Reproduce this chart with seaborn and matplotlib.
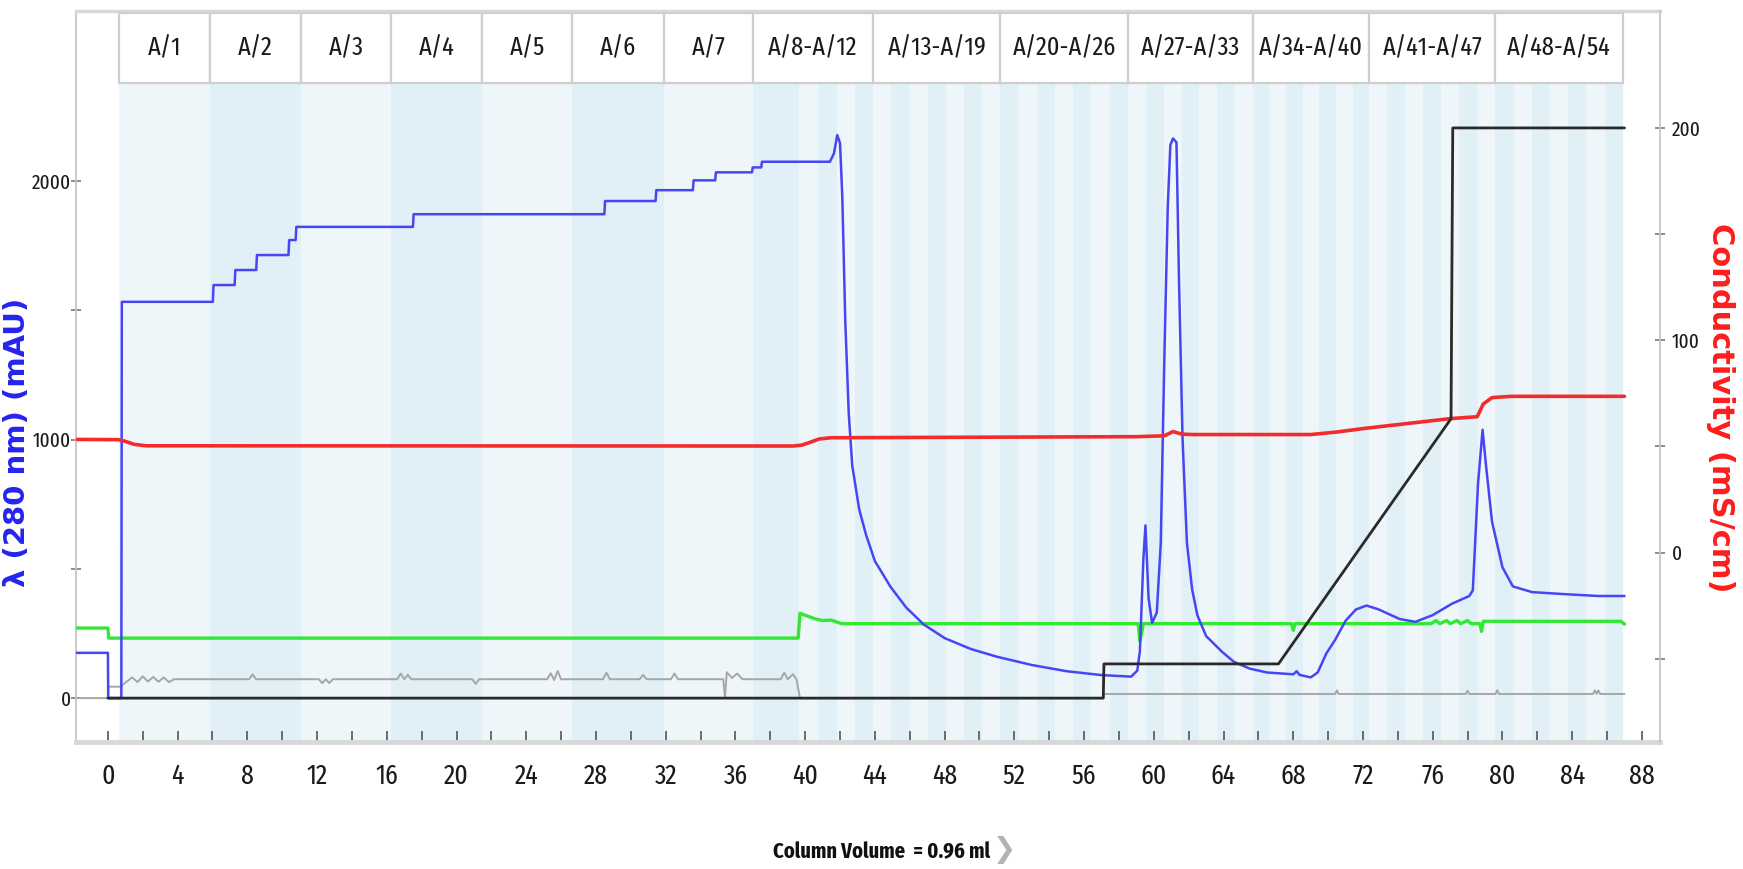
import matplotlib
matplotlib.use('Agg')
import matplotlib.pyplot as plt
import matplotlib.transforms as mtransforms
from matplotlib.patches import Rectangle
from matplotlib.ticker import FixedLocator
from matplotlib import font_manager
import seaborn as sns

# ---------------- data (column volumes, CV) ----------------
# UV 280 nm (mAU)
blue_cv = [-1.85, 0.00, 0.02, 0.77, 0.80,
           6.02, 6.06, 7.27, 7.31, 8.51, 8.55, 10.36, 10.40, 10.77, 10.81,
           17.50, 17.54, 28.48, 28.52, 31.42, 31.46, 33.56, 33.60, 34.84, 34.88,
           36.95, 36.99, 37.48, 37.52, 41.42, 41.65, 41.84, 42.00, 42.13, 42.30,
           42.50, 42.70, 43.10, 43.50, 44.00, 44.90, 45.80, 46.80, 48.00, 49.50,
           51.00, 53.00, 55.00, 57.00, 58.70, 59.05, 59.20, 59.40, 59.52, 59.70,
           59.90, 60.17, 60.40, 60.60, 60.80, 60.95, 61.10, 61.30, 61.45, 61.65,
           61.90, 62.20, 62.50, 63.00, 63.90, 64.60, 65.50, 66.50, 68.00, 68.20,
           68.35, 69.00, 69.40, 69.90, 70.40, 71.00, 71.60, 72.20, 72.90, 74.10,
           75.00, 76.00, 77.10, 78.10, 78.30, 78.60, 78.86, 79.05, 79.40, 80.00,
           80.60, 81.70, 83.60, 85.50, 87.00]
blue_mau = [175, 175, 0, 0, 1533,
            1533, 1598, 1598, 1656, 1656, 1714, 1714, 1772, 1772, 1823,
            1823, 1872, 1872, 1923, 1923, 1965, 1965, 2003, 2003, 2034,
            2034, 2053, 2053, 2075, 2075, 2107, 2178, 2147, 1940, 1460,
            1100, 900, 730, 630, 530, 430, 350, 285, 232, 190,
            160, 128, 104, 89, 83, 106, 180, 535, 668, 387,
            291, 330, 600, 1300, 1900, 2140, 2165, 2150, 1600, 1000,
            600, 420, 320, 240, 180, 140, 114, 99, 92, 104,
            90, 80, 99, 173, 225, 299, 343, 358, 343, 306,
            295, 321, 365, 395, 417, 831, 1038, 905, 683, 506,
            432, 410, 402, 395, 395]

# conductivity (mS/cm)
red_cv = [-1.85, 0.60, 1.00, 1.50, 2.20, 39.30, 39.80, 40.30, 40.80, 41.50, 59.00, 60.60, 61.10,
          61.60, 62.20, 69.00, 70.50, 72.20, 77.00, 78.55, 78.70, 78.90, 79.40, 80.50, 87.00]
red_ms = [53.3, 53.2, 52.4, 51.0, 50.3, 50.2, 50.6, 52.0, 53.5, 54.1, 54.6, 55.0, 57.0,
          55.8, 55.6, 55.6, 56.8, 58.6, 63.1, 64.0, 66.5, 70.0, 73.0, 73.6, 73.6]

# second trace (green, mAU scale)
green_cv = [-1.85, 0.00, 0.05, 39.60, 39.70, 40.10, 40.60, 41.00, 41.50, 41.90, 42.10,
            59.10, 59.20, 59.30, 59.40, 67.90, 68.00, 68.10, 75.90, 76.20, 76.40, 76.80,
            77.00, 77.40, 77.60, 78.00, 78.20, 78.70, 78.80, 78.90, 79.00, 86.80, 87.00]
green_mau = [271, 271, 232, 232, 328, 318, 306, 300, 302, 292, 288,
             288, 221, 250, 288, 288, 262, 288, 288, 300, 288, 300,
             288, 300, 288, 300, 288, 288, 258, 297, 297, 297, 286]

# grey trace (mAU scale)
grey_cv = [-1.85, 0.00, 0.02, 0.70, 1.00, 1.40, 1.70, 2.00, 2.30, 2.60, 2.90, 3.20, 3.50, 3.80,
           8.10, 8.30, 8.50, 12.10, 12.30, 12.50, 12.70, 12.90, 16.60, 16.80, 17.00, 17.20, 17.40,
           20.90, 21.10, 21.30, 25.20, 25.40, 25.60, 25.80, 26.00, 26.20, 28.40, 28.60, 28.80,
           30.50, 30.70, 30.90, 32.30, 32.50, 32.70, 35.30, 35.40, 35.50, 35.80, 36.10, 36.40,
           38.60, 38.80, 39.00, 39.30, 39.50, 39.70, 57.10, 57.15, 70.40, 70.50, 70.60,
           77.90, 78.00, 78.10, 79.60, 79.70, 79.80, 85.20, 85.30, 85.40, 85.50, 85.60, 87.00]
grey_mau = [0, 0, 44, 44, 60, 80, 62, 84, 64, 82, 63, 80, 62, 73,
            73, 92, 73, 73, 58, 73, 58, 73, 73, 95, 73, 90, 73,
            73, 55, 73, 73, 96, 70, 105, 72, 73, 73, 98, 73,
            73, 90, 73, 73, 95, 73, 73, 0, 100, 78, 95, 73,
            73, 98, 73, 92, 73, 0, 0, 16, 16, 30, 16,
            16, 28, 16, 16, 30, 16, 16, 30, 16, 30, 16, 16]

# gradient (%B)
black_cv = [0.00, 57.10, 57.14, 67.15, 77.05, 77.15, 87.00]
black_pct = [0, 0, 6, 6, 49, 100, 100]

# fractions
band_labels = ['A/1', 'A/2', 'A/3', 'A/4', 'A/5', 'A/6', 'A/7', 'A/8-A/12', 'A/13-A/19',
               'A/20-A/26', 'A/27-A/33', 'A/34-A/40', 'A/41-A/47', 'A/48-A/54']
band_edges = [0.63, 5.85, 11.07, 16.24, 21.46, 26.62, 31.90, 37.00, 43.90, 51.20,
              58.50, 65.70, 72.35, 79.60, 86.90]
frac_edges = [0.63, 5.85, 11.07, 16.24, 21.46, 26.62, 31.90, 37.00, 39.66, 40.75, 41.80,
              42.86, 43.90, 44.94, 45.99, 47.03, 48.07, 49.11, 50.16, 51.20, 52.24, 53.29,
              54.33, 55.37, 56.41, 57.46, 58.50, 59.53, 60.56, 61.59, 62.61, 63.64, 64.67,
              65.70, 66.65, 67.60, 68.55, 69.50, 70.45, 71.40, 72.35, 73.39, 74.42, 75.46,
              76.50, 77.53, 78.57, 79.60, 80.64, 81.69, 82.73, 83.77, 84.81, 85.86, 86.90]

# ---------------- fonts ----------------
sns.set_theme(style='white')
plt.rcParams['font.family'] = ['DejaVu Sans']

names = {f.name for f in font_manager.fontManager.ttflist}
narrow_family = next((c for c in ['Fira Sans Extra Condensed', 'Barlow Condensed',
                                  'Roboto Condensed'] if c in names), 'DejaVu Sans')

def narrow(size, weight='normal'):
    return dict(family=[narrow_family, 'DejaVu Sans'], size=size, weight=weight)

# ---------------- figure ----------------
fig = plt.figure(figsize=(17.43, 8.69), dpi=100)
ax = fig.add_axes([0.0434, 0.1467, 0.9090, 0.8406])
ax2 = ax.twinx()
ax3 = ax.twinx()

band_y0, band_y1 = 0.9009, 0.9977
light, dark = '#EEF6FA', '#E1EFF6'
for i in range(len(frac_edges) - 1):
    ax.axvspan(frac_edges[i], frac_edges[i + 1], ymin=0, ymax=band_y0,
               color=light if i % 2 == 0 else dark, lw=0, zorder=0)

sns.lineplot(x=grey_cv, y=grey_mau, ax=ax, color='#a6a6a6', lw=1.4, sort=False, estimator=None, zorder=2)
sns.lineplot(x=green_cv, y=green_mau, ax=ax, color='#33E833', lw=2.4, sort=False, estimator=None, zorder=3)
sns.lineplot(x=blue_cv, y=blue_mau, ax=ax, color='#4646F2', lw=1.8, sort=False, estimator=None, zorder=4)
sns.lineplot(x=red_cv, y=red_ms, ax=ax2, color='#F22C2C', lw=2.6, sort=False, estimator=None)
sns.lineplot(x=black_cv, y=black_pct, ax=ax3, color='#2a2a2a', lw=2.0, sort=False, estimator=None)

ax.set_xlim(-1.85, 89.04)
ax.set_ylim(-168, 2658)
ax2.set_ylim(-89, 255.1)
ax3.set_ylim(-7.61, 120.5)
for a in (ax, ax2, ax3):
    a.set_xlabel('')
    a.set_ylabel('')

# fraction band
tr = mtransforms.blended_transform_factory(ax3.transData, ax3.transAxes)
for lab, e0, e1 in zip(band_labels, band_edges[:-1], band_edges[1:]):
    ax3.add_patch(Rectangle((e0, band_y0), e1 - e0, band_y1 - band_y0, transform=tr,
                            facecolor='white', edgecolor='#cfcfcf', lw=1.6, clip_on=False))
    ax3.text((e0 + e1) / 2, (band_y0 + band_y1) / 2, lab, transform=tr, ha='center',
             va='center', color='#1a1a1a', **narrow(19))
ax3.set_axis_off()

# spines
ax.spines['left'].set_color('#c6c6c6')
ax.spines['left'].set_linewidth(1.3)
ax.spines['bottom'].set_color('#d8d8d8')
ax.spines['bottom'].set_linewidth(3.5)
ax.spines['top'].set_color('#d8d8d8')
ax.spines['top'].set_linewidth(2.5)
ax.spines['right'].set_visible(False)
for s in ('left', 'top', 'bottom'):
    ax2.spines[s].set_visible(False)
ax2.spines['right'].set_color('#c6c6c6')
ax2.spines['right'].set_linewidth(1.3)

# ticks
ax.xaxis.set_major_locator(FixedLocator(list(range(0, 89, 4))))
ax.xaxis.set_minor_locator(FixedLocator(list(range(0, 89, 2))))
ax.tick_params(axis='x', which='both', bottom=True, direction='in', length=8, width=1.2,
               color='#555555', pad=15)
ax.yaxis.set_major_locator(FixedLocator([0, 1000, 2000]))
ax.yaxis.set_minor_locator(FixedLocator([500, 1500]))
ax.tick_params(axis='y', which='both', left=True, direction='inout', length=7, width=1.2,
               color='#7a7a7a', pad=0)
ax2.yaxis.set_major_locator(FixedLocator([0, 100, 200]))
ax2.yaxis.set_minor_locator(FixedLocator([-50, 50, 150]))
ax2.tick_params(axis='y', which='both', right=True, direction='inout', length=7, width=1.2,
                color='#7a7a7a', pad=5)
for lbl in ax.get_xticklabels():
    lbl.set_fontproperties(font_manager.FontProperties(**narrow(20)))
    lbl.set_color('#1a1a1a')
for lbl in ax.get_yticklabels() + ax2.get_yticklabels():
    lbl.set_fontproperties(font_manager.FontProperties(**narrow(15)))
    lbl.set_color('#1a1a1a')

# axis titles
fig.text(17 / 1743, 0.4914, 'λ (280 nm) (mAU)', rotation=90, color='#2424EE',
         fontweight='bold', fontsize=21, ha='center', va='center')
fig.text(1720 / 1743, 0.531, 'Conductivity (mS/cm)', rotation=270, color='#FF1C1C',
         fontweight='bold', fontsize=22, ha='center', va='center')
fig.text(882 / 1743, 0.020, 'Column Volume  = 0.96 ml', ha='center', va='center',
         color='#111111', **narrow(16, 'bold'))
fig.text(1004 / 1743, 0.022, '❯', ha='center', va='center', color='#b3b3b3', fontsize=20)

fig.savefig('out.png', dpi=100)
